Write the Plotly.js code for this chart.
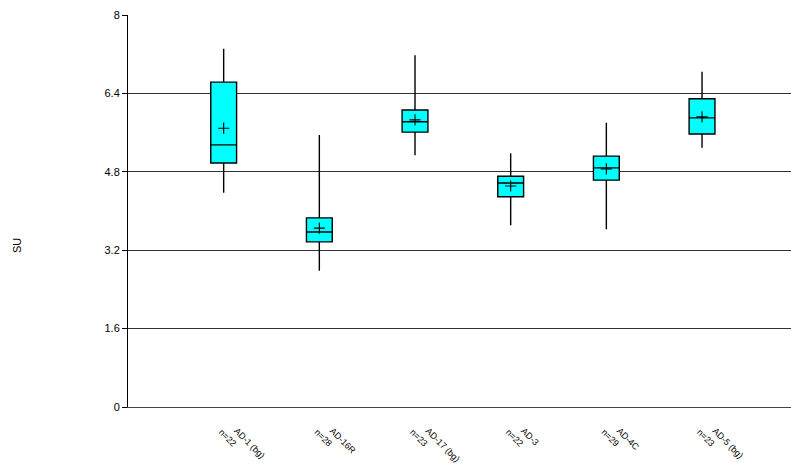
<!DOCTYPE html>
<html>
<head>
<meta charset="utf-8">
<script src="https://cdn.plot.ly/plotly-3.0.1.min.js"></script>
<style>html,body{margin:0;padding:0;background:#fff;}#chart{width:791px;height:473px;}</style>
</head>
<body>
<div id="chart"></div>
<script>
// Data
const categories = ["AD-1 (bg)", "AD-16R", "AD-17 (bg)", "AD-3", "AD-4C", "AD-5 (bg)"];
const counts = ["n=22", "n=28", "n=23", "n=22", "n=29", "n=23"];
const minVals = [4.37, 2.78, 5.14, 3.71, 3.63, 5.29];
const q1Vals = [4.98, 3.37, 5.61, 4.29, 4.63, 5.57];
const medianVals = [5.35, 3.57, 5.82, 4.57, 4.88, 5.90];
const q3Vals = [6.63, 3.86, 6.06, 4.71, 5.12, 6.29];
const maxVals = [7.31, 5.55, 7.18, 5.18, 5.80, 6.84];
const meanVals = [5.69, 3.65, 5.86, 4.51, 4.86, 5.92];
const yTicks = [0, 1.6, 3.2, 4.8, 6.4, 8];

const xPos = categories.map((c, i) => i + 1);
const pad = "\u00a0\u00a0\u00a0\u00a0";
const tickText = categories.map((c, i) => pad + c + "<br>" + counts[i]);

const boxTrace = {
  type: "box",
  x: xPos,
  q1: q1Vals,
  median: medianVals,
  q3: q3Vals,
  lowerfence: minVals,
  upperfence: maxVals,
  width: 0.27,
  whiskerwidth: 0,
  fillcolor: "#00FFFF",
  line: {color: "#000000", width: 1.4},
  boxpoints: false,
  hoverinfo: "skip",
  showlegend: false
};

const meanTrace = {
  type: "scatter",
  mode: "markers",
  x: xPos,
  y: meanVals,
  marker: {symbol: "cross-thin", size: 8, color: "#000", line: {color: "#000", width: 1.1}},
  hoverinfo: "skip",
  showlegend: false
};

const layout = {
  width: 791,
  height: 473,
  margin: {l: 128, r: 0, t: 15, b: 66, pad: 0},
  paper_bgcolor: "#ffffff",
  plot_bgcolor: "#ffffff",
  font: {family: "Liberation Sans, Arial, sans-serif", color: "#000"},
  xaxis: {
    range: [0, 6.93],
    tickvals: xPos,
    ticktext: tickText,
    tickangle: 45,
    tickfont: {size: 9, color: "#000"},
    ticks: "",
    ticklabelstandoff: 7,
    ticklabelshift: 6,
    showgrid: false,
    zeroline: false,
    showline: true,
    linecolor: "#444",
    linewidth: 1,
    fixedrange: true
  },
  yaxis: {
    range: [0, 8],
    tickvals: yTicks,
    ticktext: yTicks.map(v => String(v)),
    tickfont: {size: 11, color: "#000"},
    ticks: "outside",
    ticklen: 5,
    tickcolor: "#000",
    showgrid: true,
    gridcolor: "#333",
    gridwidth: 1,
    zeroline: false,
    showline: true,
    linecolor: "#000",
    linewidth: 1,
    fixedrange: true
  },
  annotations: [{
    text: "SU",
    xref: "paper", yref: "paper",
    x: -128 / 663 + 17 / 663, y: (407 - 245) / 392,
    xanchor: "center", yanchor: "middle",
    textangle: -90,
    showarrow: false,
    font: {size: 11, color: "#000"}
  }]
};

Plotly.newPlot("chart", [boxTrace, meanTrace], layout, {displayModeBar: false, staticPlot: true});
</script>
</body>
</html>
